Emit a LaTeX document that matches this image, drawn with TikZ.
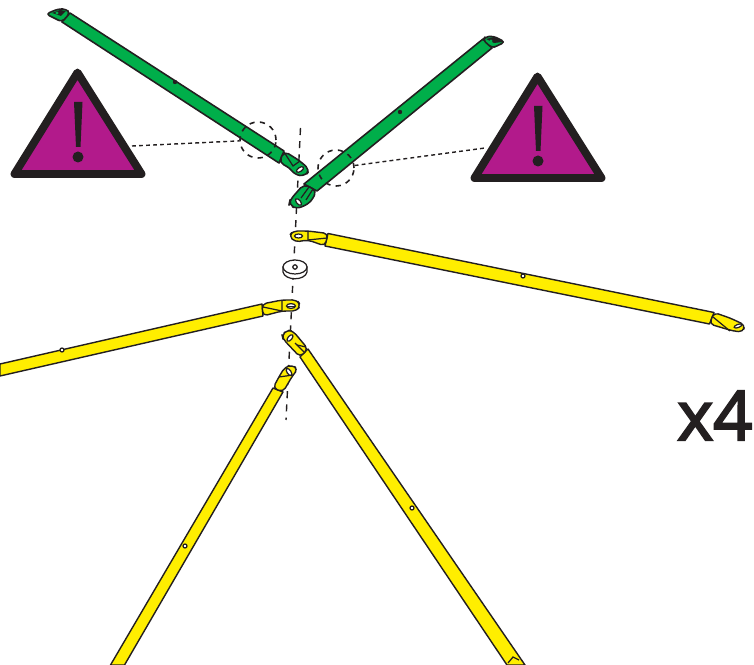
\documentclass[tikz,border=0pt]{standalone}
\usepackage{fontspec}
\usepackage{xcolor}
\newfontfamily\countfont[FakeBold=3]{Open Sans}
\usetikzlibrary{calc,positioning}
\definecolor{barGreen}{HTML}{00AE4A}
\definecolor{barYellow}{HTML}{FFEE00}
\definecolor{warnPurple}{HTML}{B21A8B}
\definecolor{inkBlack}{HTML}{231F20}
\tikzstyle{greenbar}=[draw=inkBlack, fill=barGreen, line width=0.9pt, line join=round]
\tikzstyle{yellowbar}=[draw=inkBlack, fill=barYellow, line width=0.8pt, line join=round]
\tikzstyle{seam}=[draw=inkBlack, line width=0.7pt]
\tikzstyle{hole}=[draw=inkBlack, fill=white, line width=0.7pt]
\tikzstyle{axisline}=[draw=inkBlack, line width=0.8pt, dash pattern=on 4pt off 3.5pt]
\tikzstyle{leader}=[draw=inkBlack, line width=0.8pt, dash pattern=on 2.2pt off 1.8pt]
\tikzstyle{ring}=[circle, draw=inkBlack, line width=0.9pt, dash pattern=on 3pt off 3pt, minimum size=20.5pt, inner sep=0pt]
\tikzstyle{warning}=[draw=inkBlack, fill=warnPurple, line width=4.5pt, line join=round]

\begin{document}
\begin{tikzpicture}[x=0.02cm,y=-0.02cm]
\useasboundingbox (0,0) rectangle (754,665);

% axis
\draw[axisline] (300.5,128) -- (286,420);

% green left
\draw[greenbar] (70,13) -- (284,151) -- (279,163) -- (62,22) -- cycle;
\draw[greenbar, rounded corners=2pt] (46,14) -- (58,9) -- (66,9) -- (70,13) -- (62,22) -- cycle;
\draw[greenbar, rounded corners=3pt] (284,151) -- (300,161) -- (310,170) -- (305,176) -- (295,175) -- (289,167) -- (279,163) -- cycle;
\draw[seam] (284,152) -- (293,166) -- (300,161);
\draw[hole] (300,169.5) ellipse [x radius=4, y radius=2, rotate=35];
\fill[inkBlack] (52,13) -- (60,10) -- (66,11) -- (61,16) -- cycle;
\fill[barGreen] (57,13) circle (1.6);
\fill[inkBlack] (175,82) circle (2.2);

% green right
\draw[greenbar] (304,184) -- (483,39) -- (492,48) -- (317,191) -- cycle;
\draw[greenbar, rounded corners=2pt] (483,40) -- (485,37) -- (493,36) -- (505,42) -- (497,46) -- (492,48) -- cycle;
\draw[greenbar, rounded corners=3pt] (304,184) -- (290,200) -- (289,205) -- (297,209) -- (310,203) -- (317,191) -- cycle;
\draw[seam] (309,187) -- (301,198);
\draw[seam] (313,189) -- (306,200);
\draw[hole] (298.5,202) ellipse [x radius=4, y radius=2, rotate=-50];
\fill[inkBlack] (486,39) -- (494,37) -- (503,42) -- (494,43) -- cycle;
\fill[barGreen] (491,41) circle (1.6);
\fill[inkBlack] (400,112) circle (2.2);

% warnings
\draw[warning] (77.5,72.5) -- (141.5,174) -- (14.5,174) -- cycle;
\draw[warning] (537.5,76.5) -- (601.5,178) -- (474.5,178) -- cycle;
\fill[inkBlack] (74,102) -- (82.5,102) -- (80.5,147) -- (76,147) -- cycle;
\fill[inkBlack] (78,157) circle (5.5);
\fill[inkBlack] (534,106) -- (542.5,106) -- (540.5,151) -- (536,151) -- cycle;
\fill[inkBlack] (538,161) circle (5.5);

% leaders
\node[ring] (ringLeft) at (258,140) {};
\node[ring] (ringRight) at (336,168) {};
\coordinate (warnLeft) at (132,146);
\coordinate (warnRight) at (485,148);
\draw[leader] (warnLeft) -- (ringLeft);
\draw[leader] (ringRight) -- (warnRight);

% yellow top right
\draw[yellowbar] (328,233.5) -- (714,312.5) -- (709.5,324) -- (325,246) -- cycle;
\draw[yellowbar, rounded corners=2.5pt] (308,231) -- (293,231) -- (289,236) -- (295,242) -- (308,240) -- (325,246) -- (328,233.5) -- cycle;
\draw[seam] (308,231) -- (308,240) -- (327,238);
\draw[hole] (298.5,236) ellipse [x radius=4, y radius=2];
\draw[yellowbar, rounded corners=2.5pt] (714,312.5) -- (730,318) -- (745,325) -- (743,332) -- (733,331) -- (709.5,324) -- cycle;
\draw[seam] (713,317) -- (730,331);
\draw[hole] (738,326) ellipse [x radius=4, y radius=1.6, rotate=20];
\draw[hole] (523,276) circle (2);

% washer
\draw[hole] (283,267) -- (283,272) .. controls (285,281) and (305,281) .. (307,272) -- (307,267) -- cycle;
\draw[hole] (295,267) ellipse [x radius=12, y radius=7];
\draw[hole] (295,267) circle (2.2);

% yellow left
\draw[yellowbar] (262,304) -- (0,364) -- (0,376) -- (263,316) -- cycle;
\draw[yellowbar, rounded corners=2.5pt] (282,300) -- (297,300) -- (300.5,305) -- (297,311) -- (282,311) -- (263,316) -- (262,304) -- cycle;
\draw[seam] (282,300) -- (282,311) -- (263,307);
\draw[hole] (291,306) ellipse [x radius=4.5, y radius=2.4];
\draw[inkBlack, line width=0.4pt] (287,306) -- (295,306);
\draw[hole] (62,350) circle (2);

% yellow bottom right
\draw[yellowbar] (308,349) -- (525,665) -- (507,665) -- (300,357) -- cycle;
\draw[yellowbar, rounded corners=2.5pt] (282,335) -- (287,330) -- (293,331) -- (308,349) -- (300,357) -- (283,339) -- cycle;
\draw[seam] (295,343) -- (305,353);
\draw[seam] (297,345) -- (306,347);
\draw[hole] (290,338) ellipse [x radius=4, y radius=2, rotate=50];
\draw[hole] (412,508) circle (2);
\draw[seam] (508,663) -- (513,657) -- (519,660);

% yellow bottom left
\draw[yellowbar] (283,392) -- (124.5,665) -- (110.5,665) -- (273,388) -- cycle;
\draw[yellowbar, rounded corners=2.5pt] (273,388) -- (280,375) -- (285,367) -- (292,365) -- (298,369) -- (293,375) -- (283,392) -- cycle;
\draw[seam] (279,377) -- (293,375);
\draw[hole] (289,372) ellipse [x radius=4, y radius=2, rotate=-55];
\draw[hole] (185,546) circle (2);

% x4
\node[anchor=base west, inner sep=0pt, text=inkBlack, font=\countfont\fontsize{39}{41}\selectfont] (countLabel) at (677,440) {x4};

\end{tikzpicture}
\end{document}
